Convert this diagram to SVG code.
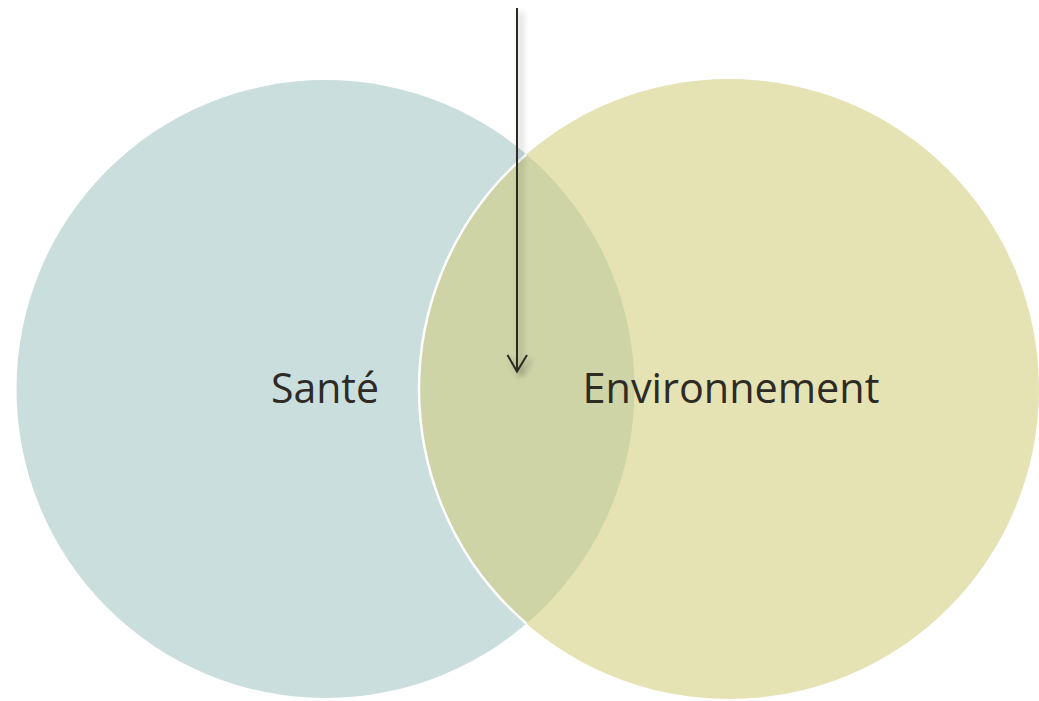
<svg xmlns="http://www.w3.org/2000/svg" width="1039" height="701" viewBox="0 0 1039 701">
<defs>
<style>
.lbl{font-family:"Open Sans","Noto Sans","Liberation Sans",sans-serif;font-size:42px;fill:#2e2a24;text-anchor:middle}
.arr{stroke:#2e2a24;stroke-width:2;fill:none}
</style>
<clipPath id="clipL"><circle cx="325.5" cy="389" r="309"/></clipPath>
<filter id="sh" x="-50%" y="-5%" width="300%" height="110%">
<feGaussianBlur in="SourceAlpha" stdDeviation="3"/>
<feOffset dx="4" dy="4" result="b"/>
<feComponentTransfer><feFuncA type="linear" slope="0.35"/></feComponentTransfer>
<feMerge><feMergeNode/><feMergeNode in="SourceGraphic"/></feMerge>
</filter>
</defs>
<rect width="1039" height="701" fill="#ffffff"/>
<g id="node-sante">
<circle cx="325.5" cy="389" r="309" fill="#cbdede"/>
</g>
<g id="node-environnement">
<circle cx="729" cy="389" r="310" fill="#e5e3b3"/>
<circle cx="729" cy="389" r="310" fill="#ced4a6" clip-path="url(#clipL)"/>
<circle cx="729" cy="389" r="310" fill="none" stroke="#ffffff" stroke-width="2.5" clip-path="url(#clipL)"/>
</g>
<g id="labels">
<text class="lbl" x="325" y="403" textLength="108" lengthAdjust="spacingAndGlyphs">Santé</text>
<text class="lbl" x="731" y="403" textLength="297" lengthAdjust="spacingAndGlyphs">Environnement</text>
</g>
<g id="connectors">
<g filter="url(#sh)">
<line class="arr" x1="517" y1="8" x2="517" y2="371"/>
<polyline class="arr" points="507.5,355 517,371.5 527,355"/>
</g>
</g>
</svg>
